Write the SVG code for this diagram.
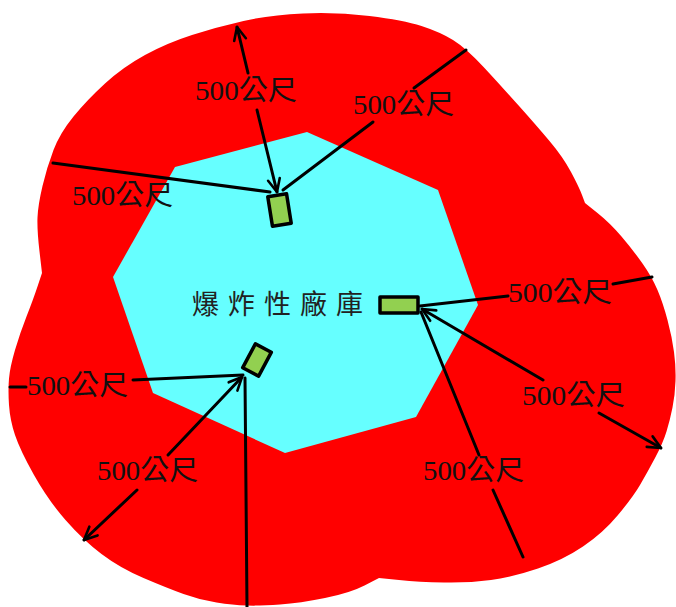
<svg xmlns="http://www.w3.org/2000/svg" width="676" height="607" viewBox="0 0 676 607">
<defs>
<style>
.lbl{font-family:"Liberation Serif","Noto Sans CJK TC",serif;font-size:28px;fill:#111;}
.ctr{font-family:"Noto Sans CJK TC","Noto Sans CJK SC",sans-serif;font-size:27px;fill:#222;}
.ln{stroke:#000;stroke-width:3;fill:none;stroke-linecap:round;}
.box{fill:#92d050;stroke:#000;stroke-width:3.5;stroke-linejoin:round;}
</style>
<marker id="ah" viewBox="0 0 16 16" refX="15" refY="8" markerWidth="16" markerHeight="16" markerUnits="userSpaceOnUse" orient="auto">
<path d="M2,2 L15,8 L2,14" fill="none" stroke="#000" stroke-width="2.6" stroke-linecap="round" stroke-linejoin="round"/>
</marker>
</defs>
<rect width="676" height="607" fill="#fff"/>
<g id="zone">
<path fill="#ff0000" d="M42,273 L39.5,251.5 Q37,230 37.5,217.5 Q38,205 42.5,186 Q47,167 53.5,150 Q60,133 73.5,116.5 Q87,100 105,83.5 Q123,67 145,55 Q167,43 192,35 Q217,27 243.5,21 Q270,15 303,13.5 Q336,12 369.5,16 Q403,20 421.5,26 Q440,32 453,40 Q466,48 484.5,68 Q503,88 519.5,106.5 Q536,125 549.5,141 Q563,157 571,172 Q579,187 582,195 L585,203 L597.5,213 Q610,223 621.5,236.5 Q633,250 642.5,263.5 Q652,277 657.5,290 Q663,303 667.5,320 Q672,337 674,352 Q676,367 675.5,381 Q675,395 672.5,407.5 Q670,420 666.5,431.5 Q663,443 655,458 Q647,473 640,485 Q633,497 618,515 Q603,533 583,546.5 Q563,560 538,568.5 Q513,577 491,580 Q469,583 444,582.5 Q419,582 399,580 L379,578 L364.5,585.5 Q350,593 325,598 Q300,603 280,604.5 Q260,606 246.5,605.5 Q233,605 216.5,602.5 Q200,600 183.5,594 Q167,588 143.5,578 Q120,568 101.5,554 Q83,540 65.5,520 Q48,500 34,475 Q20,450 15,435 Q10,420 9,405 Q8,390 9,378.5 Q10,367 15,350 Q20,333 26.5,316.5 Q33,300 37.5,286.5 L42,273 Z"/>
<polygon fill="#66ffff" points="307,132 438,190 478,305 416,417 285,453 153,393 113,277 175,167"/>
</g>
<g id="connectors">
<line class="ln" x1="248" y1="73" x2="237" y2="27" marker-end="url(#ah)"/>
<line class="ln" x1="257" y1="110" x2="277" y2="192" marker-end="url(#ah)"/>
<line class="ln" x1="53" y1="163" x2="270" y2="192"/>
<line class="ln" x1="283" y1="190" x2="373" y2="122"/>
<line class="ln" x1="414" y1="88" x2="466" y2="50"/>
<line class="ln" x1="420" y1="306" x2="508" y2="296"/>
<line class="ln" x1="613" y1="284" x2="652" y2="277"/>
<line class="ln" x1="543" y1="380" x2="422" y2="309" marker-end="url(#ah)"/>
<line class="ln" x1="599" y1="413" x2="661" y2="448" marker-end="url(#ah)"/>
<line class="ln" x1="479" y1="455" x2="421" y2="312"/>
<line class="ln" x1="493" y1="490" x2="523" y2="557"/>
<line class="ln" x1="243" y1="375" x2="133" y2="380"/>
<line class="ln" x1="10" y1="387" x2="26" y2="387"/>
<line class="ln" x1="168" y1="455" x2="242" y2="377" marker-end="url(#ah)"/>
<line class="ln" x1="137" y1="490" x2="84" y2="540" marker-end="url(#ah)"/>
<line class="ln" x1="245" y1="378" x2="247" y2="607"/>
</g>
<g id="labels">
<text class="lbl" x="195" y="100" textLength="102" lengthAdjust="spacingAndGlyphs">500公尺</text>
<text class="lbl" x="72" y="205" textLength="101" lengthAdjust="spacingAndGlyphs">500公尺</text>
<text class="lbl" x="353" y="114" textLength="101" lengthAdjust="spacingAndGlyphs">500公尺</text>
<text class="lbl" x="508" y="302" textLength="104" lengthAdjust="spacingAndGlyphs">500公尺</text>
<text class="lbl" x="522" y="405" textLength="103" lengthAdjust="spacingAndGlyphs">500公尺</text>
<text class="lbl" x="423" y="480" textLength="101" lengthAdjust="spacingAndGlyphs">500公尺</text>
<text class="lbl" x="27" y="395" textLength="101" lengthAdjust="spacingAndGlyphs">500公尺</text>
<text class="lbl" x="97" y="480" textLength="101" lengthAdjust="spacingAndGlyphs">500公尺</text>
</g>
<g id="center-label">
<text class="ctr" x="192" y="314" textLength="171" lengthAdjust="spacing">爆炸性廠庫</text>
</g>
<g id="depot-top">
<rect class="box" x="-9.5" y="-15" width="19" height="30" transform="translate(279.5,210) rotate(-9)"/>
</g>
<g id="depot-right">
<rect class="box" x="380" y="297" width="38" height="16"/>
</g>
<g id="depot-left">
<rect class="box" x="-9" y="-13.5" width="18" height="27" transform="translate(257,360) rotate(28)"/>
</g>
</svg>
